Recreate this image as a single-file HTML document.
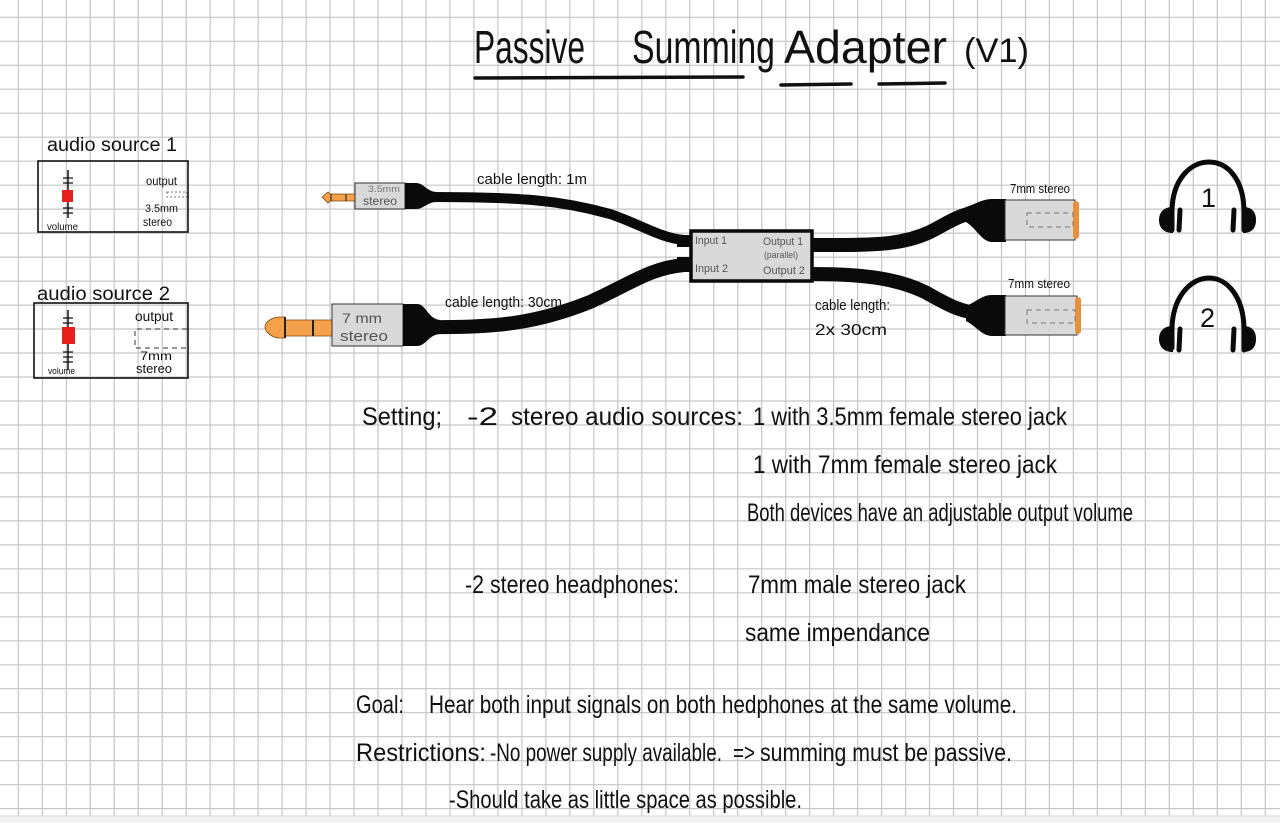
<!DOCTYPE html>
<html>
<head>
<meta charset="utf-8">
<style>
html,body{margin:0;padding:0;background:#fff;}
svg{display:block;}
text{font-family:"Liberation Sans",sans-serif;fill:#111;}
</style>
</head>
<body>
<svg width="1280" height="823" viewBox="0 0 1280 823" xmlns="http://www.w3.org/2000/svg">
<rect x="0" y="0" width="1280" height="823" fill="#fff"/>
<!-- grid -->
<path stroke="#c6c6c6" stroke-width="1.2" fill="none" d="
M18.3 0V823 M42.3 0V823 M66.3 0V823 M90.2 0V823 M114.2 0V823 M138.2 0V823 M162.2 0V823 M186.2 0V823 M210.1 0V823 M234.1 0V823
M258.1 0V823 M282.1 0V823 M306.1 0V823 M330 0V823 M354 0V823 M378 0V823 M402 0V823 M426 0V823 M449.9 0V823 M473.9 0V823
M497.9 0V823 M521.9 0V823 M545.9 0V823 M569.8 0V823 M593.8 0V823 M617.8 0V823 M641.8 0V823 M665.8 0V823 M689.7 0V823 M713.7 0V823
M737.7 0V823 M761.7 0V823 M785.7 0V823 M809.6 0V823 M833.6 0V823 M857.6 0V823 M881.6 0V823 M905.6 0V823 M929.5 0V823 M953.5 0V823
M977.5 0V823 M1001.5 0V823 M1025.5 0V823 M1049.4 0V823 M1073.4 0V823 M1097.4 0V823 M1121.4 0V823 M1145.4 0V823 M1169.3 0V823 M1193.3 0V823
M1217.3 0V823 M1241.3 0V823 M1265.3 0V823
M0 17.3H1280 M0 41.3H1280 M0 65.3H1280 M0 89.2H1280 M0 113.2H1280 M0 137.2H1280 M0 161.2H1280 M0 185.2H1280 M0 209.1H1280
M0 233.1H1280 M0 257.1H1280 M0 281.1H1280 M0 305.1H1280 M0 329H1280 M0 353H1280 M0 377H1280 M0 401H1280 M0 425H1280
M0 448.9H1280 M0 472.9H1280 M0 496.9H1280 M0 520.9H1280 M0 544.9H1280 M0 568.8H1280 M0 592.8H1280 M0 616.8H1280 M0 640.8H1280
M0 664.8H1280 M0 688.7H1280 M0 712.7H1280 M0 736.7H1280 M0 760.7H1280 M0 784.7H1280 M0 808.6H1280"/>
<rect x="0" y="816" width="1280" height="7" fill="#f3f3f3"/>
<line x1="0" y1="816" x2="1280" y2="816" stroke="#d6d6d6" stroke-width="1"/>

<!-- title -->
<text x="474" y="63" font-size="46" textLength="111" lengthAdjust="spacingAndGlyphs">Passive</text>
<text x="632" y="63" font-size="46" textLength="143" lengthAdjust="spacingAndGlyphs">Summing</text>
<text x="784" y="63" font-size="46" textLength="163" lengthAdjust="spacingAndGlyphs">Adapter</text>
<text x="964" y="62" font-size="34" textLength="65" lengthAdjust="spacingAndGlyphs">(V1)</text>
<path d="M475 78 L743 77" stroke="#111" stroke-width="3.5" stroke-linecap="round"/>
<path d="M781 85 L851 84" stroke="#111" stroke-width="3.5" stroke-linecap="round"/>
<path d="M879 84 L945 83" stroke="#111" stroke-width="3.5" stroke-linecap="round"/>

<!-- audio source 1 -->
<text x="47" y="151" font-size="19" textLength="130" lengthAdjust="spacingAndGlyphs">audio source 1</text>
<rect x="38" y="161" width="150" height="71" fill="none" stroke="#111" stroke-width="1.6"/>
<line x1="68" y1="170" x2="68" y2="218" stroke="#111" stroke-width="1.5"/>
<path d="M63 178H73 M63 183H73 M63 208H73 M63 213H73" stroke="#111" stroke-width="1.3"/>
<rect x="62" y="190" width="11" height="12" fill="#e8201c"/>
<text x="146" y="185" font-size="12" textLength="31" lengthAdjust="spacingAndGlyphs">output</text>
<rect x="167" y="192" width="20" height="5" fill="none" stroke="#555" stroke-width="0.8" stroke-dasharray="2,2"/>
<text x="145" y="212" font-size="11" textLength="33" lengthAdjust="spacingAndGlyphs">3.5mm</text>
<text x="143" y="226" font-size="12" textLength="29" lengthAdjust="spacingAndGlyphs">stereo</text>
<text x="47" y="230" font-size="10" textLength="31" lengthAdjust="spacingAndGlyphs">volume</text>

<!-- audio source 2 -->
<text x="37" y="300" font-size="19" textLength="133" lengthAdjust="spacingAndGlyphs">audio source 2</text>
<rect x="34" y="303" width="154" height="75" fill="none" stroke="#111" stroke-width="1.6"/>
<line x1="68" y1="310" x2="68" y2="370" stroke="#111" stroke-width="1.5"/>
<path d="M63 318H73 M63 323H73 M63 352H73 M63 357H73 M63 362H73" stroke="#111" stroke-width="1.3"/>
<rect x="62" y="327" width="13" height="17" fill="#e8201c"/>
<text x="135" y="321" font-size="14" textLength="38" lengthAdjust="spacingAndGlyphs">output</text>
<path d="M187 329H135V348H187" fill="none" stroke="#333" stroke-width="1" stroke-dasharray="5,4"/>
<text x="140" y="360" font-size="12" textLength="32" lengthAdjust="spacingAndGlyphs">7mm</text>
<text x="136" y="373" font-size="13" textLength="36" lengthAdjust="spacingAndGlyphs">stereo</text>
<text x="48" y="374" font-size="9" textLength="27" lengthAdjust="spacingAndGlyphs">volume</text>

<!-- left cables -->
<path d="M430 197 C520 197 560 200 610 214 C640 224 660 238 684 240" fill="none" stroke="#0a0a0a" stroke-width="10"/>
<path d="M430 327 C500 328 540 322 590 302 C630 284 650 268 684 265" fill="none" stroke="#0a0a0a" stroke-width="14"/>
<rect x="677" y="235" width="16" height="12" fill="#0a0a0a"/>
<rect x="677" y="257" width="16" height="15" fill="#0a0a0a"/>

<!-- 3.5mm jack -->
<path d="M322 197 L328 192 L330 194 L355 194 L355 201 L330 201 L328 203 Z" fill="#f5a04a" stroke="#7a4a10" stroke-width="0.8"/>
<path d="M331 194V201 M346 194V201" stroke="#333" stroke-width="1.2"/>
<rect x="355" y="183" width="50" height="26" fill="#d9d9d9" stroke="#333" stroke-width="1"/>
<text x="368" y="192" font-size="9" fill="#777" style="fill:#777" textLength="32" lengthAdjust="spacingAndGlyphs">3.5mm</text>
<text x="363" y="205" font-size="12" style="fill:#555" textLength="34" lengthAdjust="spacingAndGlyphs">stereo</text>
<path d="M405 183 L416 183 C424 183 427 192 437 192 L437 202 C427 202 424 209 416 209 L405 209 Z" fill="#0a0a0a"/>

<!-- 7mm jack -->
<path d="M265 327 C265 322 272 317 280 317 L285 317 L285 320 L332 320 L332 336 L285 336 L285 338 L280 338 C272 338 265 332 265 327 Z" fill="#f5a04a" stroke="#7a4a10" stroke-width="0.8"/>
<path d="M285 317V338 M313 320V336" stroke="#222" stroke-width="2"/>
<rect x="332" y="304" width="71" height="42" fill="#d9d9d9" stroke="#333" stroke-width="1"/>
<text x="342" y="323" font-size="14" style="fill:#555" textLength="40" lengthAdjust="spacingAndGlyphs">7 mm</text>
<text x="340" y="341" font-size="15" style="fill:#555" textLength="48" lengthAdjust="spacingAndGlyphs">stereo</text>
<path d="M403 304 L417 304 C426 304 428 319 440 320 L440 334 C428 335 426 346 417 346 L403 346 Z" fill="#0a0a0a"/>

<text x="477" y="184" font-size="15" textLength="110" lengthAdjust="spacingAndGlyphs">cable length: 1m</text>
<text x="445" y="307" font-size="15" textLength="117" lengthAdjust="spacingAndGlyphs">cable length: 30cm</text>

<!-- central box -->
<rect x="691" y="231" width="121" height="50" fill="#d9d9d9" stroke="#0a0a0a" stroke-width="3.5"/>
<text x="695" y="244" font-size="11" style="fill:#555" textLength="32" lengthAdjust="spacingAndGlyphs">Input 1</text>
<text x="695" y="272" font-size="11" style="fill:#555" textLength="33" lengthAdjust="spacingAndGlyphs">Input 2</text>
<text x="763" y="245" font-size="11" style="fill:#555" textLength="40" lengthAdjust="spacingAndGlyphs">Output 1</text>
<text x="764" y="258" font-size="9" style="fill:#555" textLength="34" lengthAdjust="spacingAndGlyphs">(parallel)</text>
<text x="763" y="274" font-size="11" style="fill:#555" textLength="42" lengthAdjust="spacingAndGlyphs">Output 2</text>

<!-- right cables -->
<path d="M812 245 C870 245 900 246 930 232 C950 222 960 213 985 211" fill="none" stroke="#0a0a0a" stroke-width="14"/>
<path d="M812 274 C870 274 900 280 925 292 C945 303 960 313 985 314" fill="none" stroke="#0a0a0a" stroke-width="14"/>
<path d="M1006 199 L992 199 C982 199 976 204 966 207 L966 222 C976 228 982 242 992 242 L1006 242 Z" fill="#0a0a0a"/>
<path d="M1006 295 L992 295 C982 295 976 302 966 306 L966 321 C976 326 982 336 992 336 L1006 336 Z" fill="#0a0a0a"/>

<!-- female jacks -->
<rect x="1005" y="200" width="70" height="40" fill="#d9d9d9" stroke="#333" stroke-width="1"/>
<rect x="1073" y="201" width="6" height="38" rx="3" fill="#e8913a"/>
<rect x="1027" y="213" width="46" height="14" fill="none" stroke="#777" stroke-width="1" stroke-dasharray="5,4"/>
<rect x="1005" y="296" width="72" height="39" fill="#d9d9d9" stroke="#333" stroke-width="1"/>
<rect x="1075" y="297" width="6" height="37" rx="3" fill="#e8913a"/>
<rect x="1027" y="310" width="48" height="13" fill="none" stroke="#777" stroke-width="1" stroke-dasharray="5,4"/>
<text x="1010" y="193" font-size="13" textLength="60" lengthAdjust="spacingAndGlyphs">7mm stereo</text>
<text x="1008" y="288" font-size="13" textLength="62" lengthAdjust="spacingAndGlyphs">7mm stereo</text>
<text x="815" y="310" font-size="15" textLength="75" lengthAdjust="spacingAndGlyphs">cable length:</text>
<text x="815" y="335" font-size="16" textLength="72" lengthAdjust="spacingAndGlyphs">2x 30cm</text>

<!-- headphones -->
<g id="hp1">
<path d="M1172 230 L1172 212 C1172 180 1190 162 1209 162 C1228 162 1244 180 1244 212 L1244 230" fill="none" stroke="#0a0a0a" stroke-width="5" stroke-linecap="round"/>
<path d="M1173 207 C1164 207 1159 212 1159 220 C1159 228 1164 233 1173 233 Z" fill="#0a0a0a"/>
<path d="M1243 207 C1252 207 1256 212 1256 220 C1256 228 1252 233 1243 233 Z" fill="#0a0a0a"/>
<line x1="1180" y1="210" x2="1179" y2="230" stroke="#0a0a0a" stroke-width="5" stroke-linecap="round"/>
<line x1="1234" y1="210" x2="1233" y2="230" stroke="#0a0a0a" stroke-width="5" stroke-linecap="round"/>
</g>
<text x="1201" y="207" font-size="27">1</text>
<g transform="translate(0,118)">
<path d="M1172 230 L1172 212 C1172 180 1190 160 1209 160 C1228 160 1244 180 1244 212 L1244 232" fill="none" stroke="#0a0a0a" stroke-width="5" stroke-linecap="round"/>
<path d="M1173 208 C1164 208 1159 213 1159 221 C1159 229 1164 234 1173 234 Z" fill="#0a0a0a"/>
<path d="M1243 208 C1252 208 1256 213 1256 221 C1256 229 1252 234 1243 234 Z" fill="#0a0a0a"/>
<line x1="1180" y1="211" x2="1179" y2="232" stroke="#0a0a0a" stroke-width="5" stroke-linecap="round"/>
<line x1="1234" y1="211" x2="1233" y2="232" stroke="#0a0a0a" stroke-width="5" stroke-linecap="round"/>
</g>
<text x="1200" y="327" font-size="27">2</text>

<!-- body text -->
<text x="362" y="425" font-size="25" textLength="80" lengthAdjust="spacingAndGlyphs">Setting;</text>
<text x="467" y="425" font-size="25" textLength="31" lengthAdjust="spacingAndGlyphs">-2</text>
<text x="511" y="425" font-size="25" textLength="232" lengthAdjust="spacingAndGlyphs">stereo audio sources:</text>
<text x="753" y="425" font-size="25" textLength="314" lengthAdjust="spacingAndGlyphs">1 with 3.5mm female stereo jack</text>
<text x="753" y="473" font-size="25" textLength="304" lengthAdjust="spacingAndGlyphs">1 with 7mm female stereo jack</text>
<text x="747" y="521" font-size="25" textLength="386" lengthAdjust="spacingAndGlyphs">Both devices have an adjustable output volume</text>
<text x="465" y="593" font-size="25" textLength="214" lengthAdjust="spacingAndGlyphs">-2 stereo headphones:</text>
<text x="748" y="593" font-size="25" textLength="218" lengthAdjust="spacingAndGlyphs">7mm male stereo jack</text>
<text x="745" y="641" font-size="25" textLength="185" lengthAdjust="spacingAndGlyphs">same impendance</text>
<text x="356" y="713" font-size="25" textLength="48" lengthAdjust="spacingAndGlyphs">Goal:</text>
<text x="429" y="713" font-size="25" textLength="588" lengthAdjust="spacingAndGlyphs">Hear both input signals on both hedphones at the same volume.</text>
<text x="356" y="761" font-size="25" textLength="130" lengthAdjust="spacingAndGlyphs">Restrictions:</text>
<text x="490" y="761" font-size="25" textLength="232" lengthAdjust="spacingAndGlyphs">-No power supply available.</text>
<text x="733" y="761" font-size="25" textLength="22" lengthAdjust="spacingAndGlyphs">=&gt;</text>
<text x="760" y="761" font-size="25" textLength="252" lengthAdjust="spacingAndGlyphs">summing must be passive.</text>
<text x="449" y="808" font-size="25" textLength="353" lengthAdjust="spacingAndGlyphs">-Should take as little space as possible.</text>
</svg>
</body>
</html>
